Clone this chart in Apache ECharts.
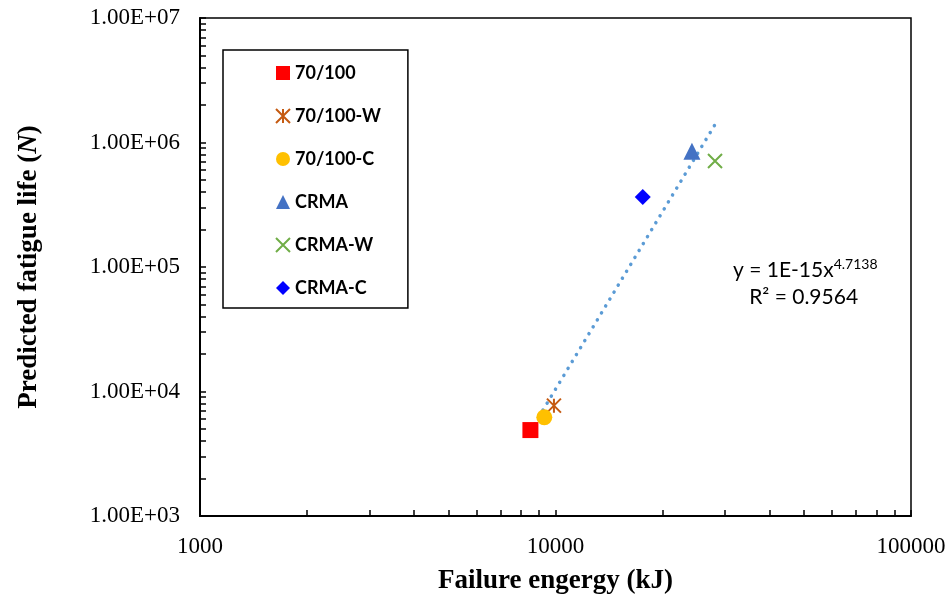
<!DOCTYPE html>
<html>
<head>
<meta charset="utf-8">
<script src="https://cdn.jsdelivr.net/npm/echarts@6/dist/echarts.min.js"></script>
<style>html,body{margin:0;padding:0;background:#fff}#c{width:949px;height:597px}</style>
</head>
<body>
<div id="c"></div>
<script>
// ---- data ----
const seriesNames = ['70/100', '70/100-W', '70/100-C', 'CRMA', 'CRMA-W', 'CRMA-C'];
const energy = [8500, 9900, 9300, 24200, 28100, 17600];          // Failure energy (kJ)
const fatigueLife = [4900, 7700, 6200, 850000, 710000, 365000];   // Predicted fatigue life (N)
const xTickLabels = [1000, 10000, 100000];
const yTickLabels = [1e3, 1e4, 1e5, 1e6, 1e7];
const equationText = ['y = 1E-15x', '4.7138', 'R² = 0.9564'];

// ---- styles ----
const colors = ['#FF0000', '#C55A11', '#FFC000', '#4472C4', '#70AD47', '#0000FF'];
const symbols = [
  'rect',
  'path://M0,0L10,10M10,0L0,10M5,0L5,10',
  'circle',
  'triangle',
  'path://M0,0L10,10M10,0L0,10',
  'diamond'
];
const stroked = [false, true, false, false, true, false];
const sizes = [16, 14, 16, 17, 14, 16];

// minor+major tick positions (1..9 per decade)
function decadeTicks(lo, hi) {
  const out = [];
  for (let d = lo; d < hi; d *= 10) for (let k = 1; k < 10; k++) out.push(d * k);
  out.push(hi);
  return out;
}

// power-law trendline fitted in log space from the data
const lx = energy.map(Math.log10), ly = fatigueLife.map(Math.log10);
const mx = lx.reduce((a, b) => a + b) / lx.length, my = ly.reduce((a, b) => a + b) / ly.length;
let sxx = 0, sxy = 0;
lx.forEach((v, i) => { sxx += (v - mx) ** 2; sxy += (v - mx) * (ly[i] - my); });
const slope = sxy / sxx, icpt = my - slope * mx;
const xMin = Math.min(...energy), xMax = Math.max(...energy);
const trend = [xMin, xMax].map(x => [x, Math.pow(10, icpt + slope * Math.log10(x))]);

function sciLabel(v) {
  const e = Math.round(Math.log10(v));
  const m = v / Math.pow(10, e);
  return m.toFixed(2) + 'E' + (e < 0 ? '-' : '+') + String(Math.abs(e)).padStart(2, '0');
}

const chart = echarts.init(document.getElementById('c'), null, { renderer: 'canvas' });
const series = seriesNames.map((n, i) => ({
  name: n,
  type: 'scatter',
  symbol: symbols[i],
  symbolSize: sizes[i],
  data: [[energy[i], fatigueLife[i]]],
  itemStyle: stroked[i]
    ? { color: 'rgba(0,0,0,0)', borderColor: colors[i], borderWidth: 2, opacity: 1 }
    : { color: colors[i], opacity: 1 },
  z: 5
}));
series.push({
  name: 'trend',
  type: 'line',
  data: trend,
  showSymbol: false,
  silent: true,
  lineStyle: { color: '#5B9BD5', width: 3.5, type: [0.1, 8], cap: 'round' },
  z: 3
});

chart.setOption({
  animation: false,
  backgroundColor: '#fff',
  grid: { left: 200, right: 38, top: 18, bottom: 81, show: true, borderColor: '#000', borderWidth: 1.5,
    containLabel: false, outerBoundsMode: 'none' },
  xAxis: {
    type: 'log', logBase: 10, min: xTickLabels[0], max: xTickLabels[xTickLabels.length - 1],
    name: 'Failure engergy (kJ)', nameLocation: 'middle', nameGap: 52,
    nameTextStyle: { fontFamily: 'Liberation Serif', fontWeight: 'bold', fontSize: 27, color: '#000' },
    axisLine: { show: true, onZero: false, lineStyle: { color: '#000', width: 2 } },
    axisTick: { show: true, inside: true, length: 6, lineStyle: { color: '#000', width: 1.5 },
      customValues: decadeTicks(xTickLabels[0], xTickLabels[xTickLabels.length - 1]) },
    axisLabel: { fontFamily: 'Liberation Serif', fontSize: 23, color: '#000', margin: 19,
      customValues: xTickLabels, formatter: v => String(Math.round(v)) },
    splitLine: { show: false }
  },
  yAxis: {
    type: 'log', logBase: 10, min: yTickLabels[0], max: yTickLabels[yTickLabels.length - 1],
    name: '{b|Predicted fatigue life (}{i|N}{b|)}', nameLocation: 'middle', nameGap: 157,
    nameTextStyle: {
      rich: {
        b: { fontFamily: 'Liberation Serif', fontWeight: 'bold', fontSize: 27, color: '#000' },
        i: { fontFamily: 'Liberation Serif', fontWeight: 'bold', fontStyle: 'italic', fontSize: 27, color: '#000' }
      }
    },
    axisLine: { show: true, onZero: false, lineStyle: { color: '#000', width: 2 } },
    axisTick: { show: true, inside: true, length: 6, lineStyle: { color: '#000', width: 1.5 },
      customValues: decadeTicks(yTickLabels[0], yTickLabels[yTickLabels.length - 1]) },
    axisLabel: { fontFamily: 'Liberation Serif', fontSize: 23, color: '#000', margin: 20,
      customValues: yTickLabels, formatter: sciLabel },
    splitLine: { show: false }
  },
  legend: {
    data: seriesNames,
    orient: 'vertical',
    left: 223, top: 50,
    padding: [14, 27, 11, 52],
    itemWidth: 14, itemHeight: 14, itemGap: 25,
    borderColor: '#000', borderWidth: 1.5,
    backgroundColor: '#fff',
    textStyle: { fontFamily: 'Lato', fontWeight: 'bold', fontSize: 18, color: '#000' }
  },
  graphic: [{
    type: 'text', left: 733, top: 257,
    style: {
      text: '{a|' + equationText[0] + '}{s|' + equationText[1] + '}\n{a|   ' + equationText[2] + '}',
      rich: {
        a: { fontFamily: 'Lato', fontSize: 21, color: '#000', lineHeight: 27 },
        s: { fontFamily: 'Lato', fontSize: 14, color: '#000', verticalAlign: 'top', lineHeight: 27, padding: [0, 0, 10, 0] }
      }
    }
  }],
  series: series
});
</script>
</body>
</html>
